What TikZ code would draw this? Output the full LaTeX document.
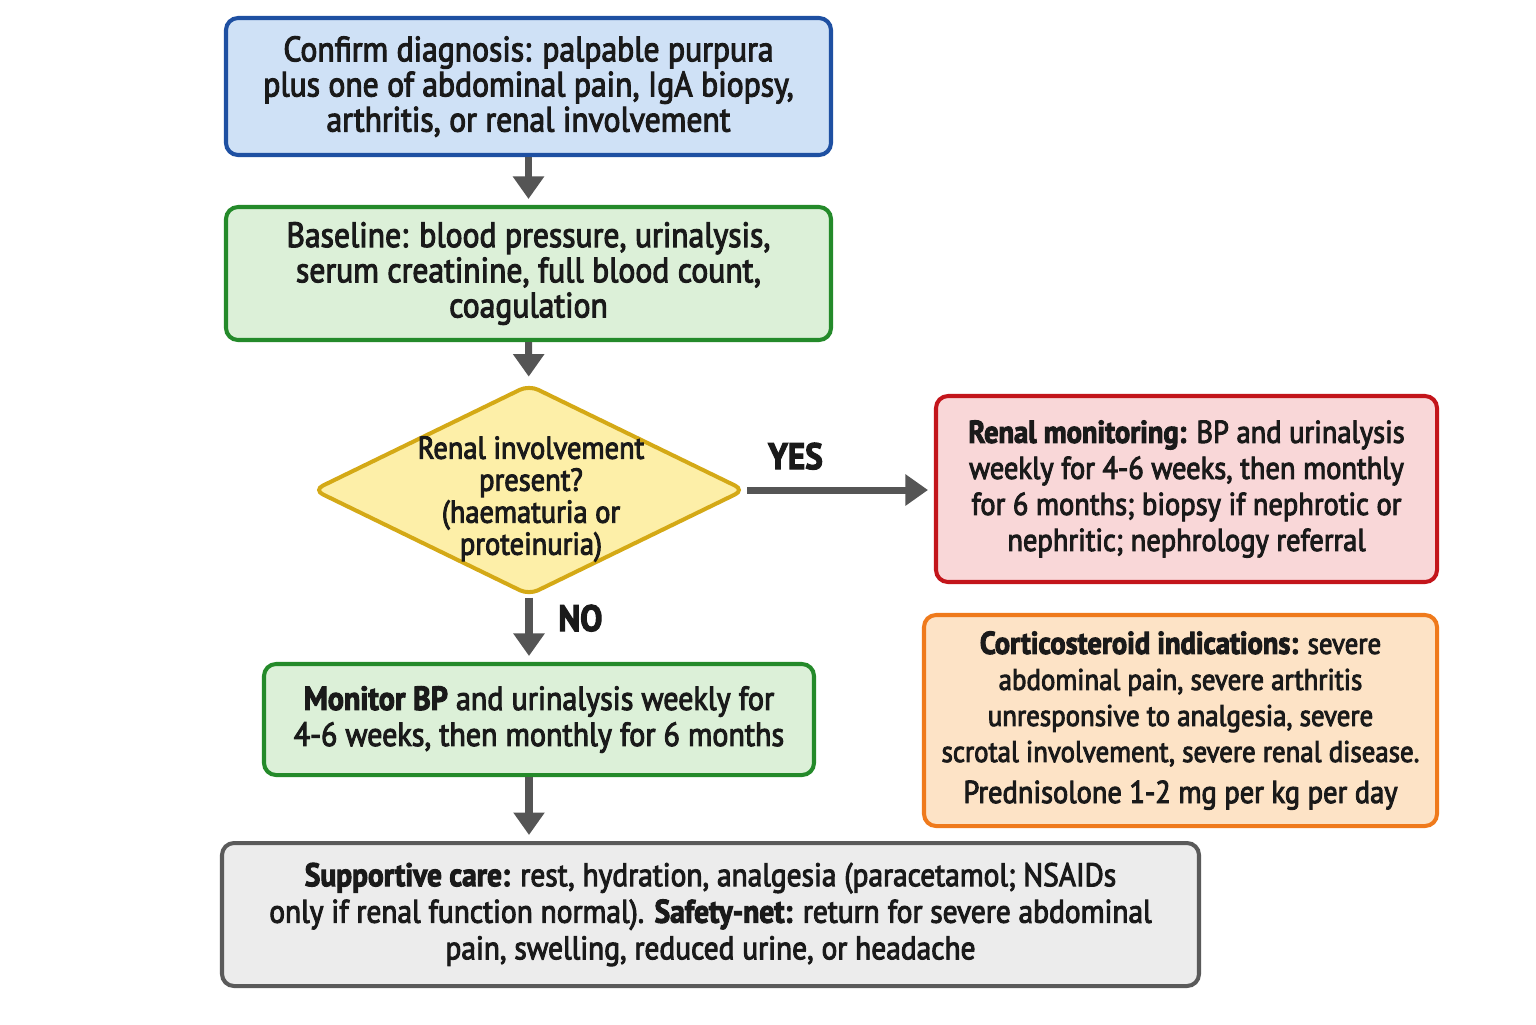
\documentclass[tikz,border=0pt]{standalone}
\usepackage{fontspec}
\setmainfont{PT Sans}[FakeStretch=0.9, RawFeature={embolden=3}]
\usepackage{tikz}
\usetikzlibrary{arrows.meta,shapes.geometric}

\definecolor{inkcol}{HTML}{1A1A1A}
\definecolor{arrowcol}{HTML}{555555}
\definecolor{bluefill}{HTML}{CFE1F6}
\definecolor{blueline}{HTML}{1E50A2}
\definecolor{greenfill}{HTML}{DCF0D8}
\definecolor{greenline}{HTML}{248A2A}
\definecolor{yellowfill}{HTML}{FDEFA8}
\definecolor{yellowline}{HTML}{D4A916}
\definecolor{redfill}{HTML}{F9D7D8}
\definecolor{redline}{HTML}{C3151B}
\definecolor{orangefill}{HTML}{FDE3C6}
\definecolor{orangeline}{HTML}{EF7A1C}
\definecolor{greyfill}{HTML}{ECECEC}
\definecolor{greyline}{HTML}{5A5A5A}

\begin{document}
\begin{tikzpicture}[auto,scale=1.0]
    \tikzstyle{box}=[rectangle,draw,rounded corners=0.24cm,line width=2.3pt,align=center,inner sep=0pt,text=inkcol,font=\fontsize{20}{20}\selectfont]
    \tikzstyle{question}=[diamond,draw,rounded corners=0.2cm,line width=2.3pt,inner sep=0pt,fill=yellowfill,draw=yellowline]
    \tikzstyle{qtext}=[align=center,inner sep=0pt,text=inkcol,font=\fontsize{18}{18.2}\selectfont]
    \tikzstyle{choice}=[font=\bfseries\fontsize{21}{20}\selectfont,text=inkcol]
    \tikzstyle{flow}=[line width=4pt,arrowcol,-{Triangle[length=0.45cm,width=0.6cm]},shorten >=0.12cm]
    \useasboundingbox (0,0) rectangle (30.72,-20.48);
    \node (confirm)  at (10.57,-1.73)  [box,fill=bluefill,draw=blueline,minimum width=12.1cm,minimum height=2.74cm]
        {Confirm diagnosis: palpable purpura\\plus one of abdominal pain, IgA biopsy,\\arthritis, or renal involvement};
    \node (baseline) at (10.57,-5.47)  [box,fill=greenfill,draw=greenline,minimum width=12.1cm,minimum height=2.66cm]
        {Baseline: blood pressure, urinalysis,\\serum creatinine, full blood count,\\coagulation};
    \node (renal)    at (10.58,-9.8)   [question,minimum width=8.64cm,minimum height=4.22cm] {};
    \node (renaltext) at (10.62,-9.98) [qtext] {Renal involvement\\present?\\(haematuria or\\proteinuria)};
    \node (monitor)  at (23.73,-9.78)  [box,fill=redfill,draw=redline,minimum width=10.02cm,minimum height=3.72cm,font=\fontsize{18}{20.5}\selectfont]
        {\textbf{Renal monitoring:} BP and urinalysis\\weekly for 4-6 weeks, then monthly\\for 6 months; biopsy if nephrotic or\\nephritic; nephrology referral};
    \node (steroid)  at (23.61,-14.41) [box,fill=orangefill,draw=orangeline,minimum width=10.26cm,minimum height=4.22cm,font=\fontsize{17}{20.5}\selectfont]
        {\textbf{\fontsize{18}{20.5}\selectfont Corticosteroid indications:} severe\\abdominal pain, severe arthritis\\unresponsive to analgesia, severe\\scrotal involvement, severe renal disease.\\[0.1cm]{\fontsize{18}{20.5}\selectfont Prednisolone 1-2 mg per kg per day}};
    \node (weekly)   at (10.78,-14.39) [box,fill=greenfill,draw=greenline,minimum width=11cm,minimum height=2.22cm,font=\fontsize{19}{20.5}\selectfont]
        {\textbf{Monitor BP} and urinalysis weekly for\\4-6 weeks, then monthly for 6 months};
    \node (support)  at (14.21,-18.29) [box,fill=greyfill,draw=greyline,minimum width=19.54cm,minimum height=2.86cm,font=\fontsize{18.6}{20.8}\selectfont]
        {\textbf{Supportive care:} rest, hydration, analgesia (paracetamol; NSAIDs\\only if renal function normal). \textbf{Safety-net:} return for severe abdominal\\pain, swelling, reduced urine, or headache};
    \draw [flow] (confirm)  -- (baseline);
    \draw [flow] (baseline) -- (renal);
    \draw [flow] (renal.east) -- (renal.east -| monitor.west) node [choice,midway,above=0.22cm,xshift=-0.9cm] {YES};
    \draw [flow] (renal.south) -- (weekly.north -| renal.south) node [choice,pos=0.32,right=0.4cm] {NO};
    \draw [flow] (weekly.south -| renal.south) -- (support.north -| renal.south);
  \end{tikzpicture}
\end{document}
